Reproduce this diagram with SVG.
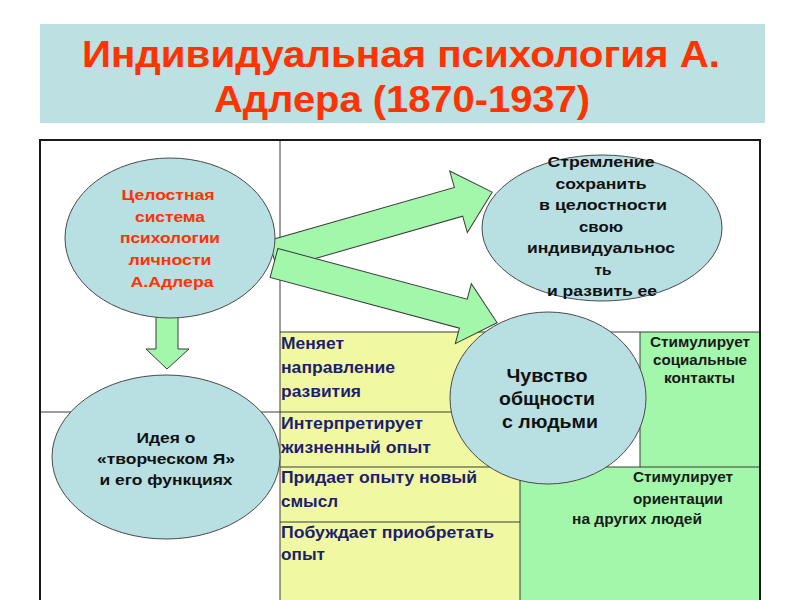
<svg xmlns="http://www.w3.org/2000/svg" width="800" height="600" viewBox="0 0 800 600">
<defs>
<style>
text{font-family:"Liberation Sans",Arial,sans-serif;font-weight:bold}
.title{font-size:36px;fill:#ff3300}
.ell{fill:#b8dfe2;stroke:#4a4a4a;stroke-width:1}
.arr{fill:#a3f7ab;stroke:#3a3a3a;stroke-width:1}
.red{font-size:15px;fill:#ff3300;text-anchor:middle}
.blk{font-size:15.5px;fill:#111;text-anchor:middle}
.big{font-size:19px;fill:#111;text-anchor:middle}
.yt{font-size:16.5px;fill:#1e1e6e}
.gt{font-size:14px;fill:#1a1a1a}
.thin{stroke:#3c3c3c;stroke-width:1;fill:none}
.thick{stroke:#1a1a1a;stroke-width:2;fill:none}
</style>
</defs>
<rect x="0" y="0" width="800" height="600" fill="#ffffff"/>
<g id="title">
<rect x="40" y="24" width="725" height="99" fill="#bde0e3"/>
<text class="title" x="82" y="67" textLength="638" lengthAdjust="spacingAndGlyphs">Индивидуальная психология А.</text>
<text class="title" x="214" y="112" textLength="376" lengthAdjust="spacingAndGlyphs">Адлера (1870-1937)</text>
</g>
<g id="table">
<rect x="280" y="332" width="280" height="135" fill="#f0f8a2"/>
<rect x="280" y="467" width="240" height="135" fill="#f0f8a2"/>
<rect x="640" y="332" width="120" height="135" fill="#a3f7ab"/>
<rect x="520" y="467" width="240" height="135" fill="#a3f7ab"/>
<path class="thin" d="M280 140V602 M280 332H760 M40 412H560 M280 467H760 M280 522H520 M520 467V602 M640 332V467 M560 332V467"/>
<path class="thick" d="M40 602V140H760V602"/>
</g>
<g id="connectors">
<polygon class="arr" transform="translate(273,255) rotate(-16)" points="0,-15 193,-15 193,-32 228,0 193,32 193,15 0,15"/>
<polygon class="arr" transform="translate(274,263) rotate(15)" points="0,-15 196,-15 196,-31 231,0 196,31 196,15 0,15"/>
<polygon class="arr" points="156,312 178,312 178,349 189,349 167,369 146,349 156,349"/>
</g>
<g id="node-system">
<ellipse class="ell" cx="170" cy="238" rx="105" ry="80"/>
<text class="red" x="168" y="200" textLength="93" lengthAdjust="spacingAndGlyphs">Целостная</text>
<text class="red" x="170" y="221.7" textLength="70" lengthAdjust="spacingAndGlyphs">система</text>
<text class="red" x="170" y="243.4" textLength="100" lengthAdjust="spacingAndGlyphs">психологии</text>
<text class="red" x="170" y="265" textLength="83" lengthAdjust="spacingAndGlyphs">личности</text>
<text class="red" x="172" y="286.8" textLength="83" lengthAdjust="spacingAndGlyphs">А.Адлера</text>
</g>
<g id="node-striving">
<ellipse class="ell" cx="602" cy="228" rx="120" ry="73"/>
<text class="blk" x="601" y="167" textLength="107" lengthAdjust="spacingAndGlyphs">Стремление</text>
<text class="blk" x="601" y="188.5" textLength="91" lengthAdjust="spacingAndGlyphs">сохранить</text>
<text class="blk" x="603" y="210" textLength="128" lengthAdjust="spacingAndGlyphs">в целостности</text>
<text class="blk" x="601" y="231.5" textLength="44" lengthAdjust="spacingAndGlyphs">свою</text>
<text class="blk" x="601" y="253" textLength="148" lengthAdjust="spacingAndGlyphs">индивидуальнос</text>
<text class="blk" x="603" y="274.5" textLength="17" lengthAdjust="spacingAndGlyphs">ть</text>
<text class="blk" x="602" y="296" textLength="110" lengthAdjust="spacingAndGlyphs">и развить ее</text>
</g>
<g id="cell-changes">
<text class="yt" x="281" y="349" textLength="63" lengthAdjust="spacingAndGlyphs">Меняет</text>
<text class="yt" x="281" y="373" textLength="114" lengthAdjust="spacingAndGlyphs">направление</text>
<text class="yt" x="281" y="397" textLength="80" lengthAdjust="spacingAndGlyphs">развития</text>
</g>
<g id="cell-interprets">
<text class="yt" x="281" y="429" textLength="142" lengthAdjust="spacingAndGlyphs">Интерпретирует</text>
<text class="yt" x="281" y="453" textLength="150" lengthAdjust="spacingAndGlyphs">жизненный опыт</text>
</g>
<g id="cell-meaning">
<text class="yt" x="281" y="483" textLength="196" lengthAdjust="spacingAndGlyphs">Придает опыту новый</text>
<text class="yt" x="281" y="507" textLength="57" lengthAdjust="spacingAndGlyphs">смысл</text>
</g>
<g id="cell-acquire">
<text class="yt" x="281" y="538" textLength="213" lengthAdjust="spacingAndGlyphs">Побуждает приобретать</text>
<text class="yt" x="281" y="560" textLength="44" lengthAdjust="spacingAndGlyphs">опыт</text>
</g>
<g id="cell-social">
<text class="gt" x="650" y="347" textLength="100" lengthAdjust="spacingAndGlyphs">Стимулирует</text>
<text class="gt" x="653" y="365" textLength="94" lengthAdjust="spacingAndGlyphs">социальные</text>
<text class="gt" x="664" y="383" textLength="71" lengthAdjust="spacingAndGlyphs">контакты</text>
</g>
<g id="cell-orientation">
<text class="gt" x="633" y="482" textLength="100" lengthAdjust="spacingAndGlyphs">Стимулирует</text>
<text class="gt" x="633" y="504" textLength="90" lengthAdjust="spacingAndGlyphs">ориентации</text>
<text class="gt" x="572" y="524" textLength="130" lengthAdjust="spacingAndGlyphs">на других людей</text>
</g>
<g id="node-community">
<ellipse class="ell" cx="548" cy="398" rx="98" ry="86"/>
<text class="big" x="547" y="382" textLength="81" lengthAdjust="spacingAndGlyphs">Чувство</text>
<text class="big" x="547" y="405" textLength="96" lengthAdjust="spacingAndGlyphs">общности</text>
<text class="big" x="550" y="428" textLength="96" lengthAdjust="spacingAndGlyphs">с людьми</text>
</g>
<g id="node-self">
<ellipse class="ell" cx="166" cy="457" rx="114" ry="82"/>
<text class="blk" x="166" y="443" textLength="59" lengthAdjust="spacingAndGlyphs">Идея о</text>
<text class="blk" x="166" y="464" textLength="138" lengthAdjust="spacingAndGlyphs">«творческом Я»</text>
<text class="blk" x="166" y="485" textLength="133" lengthAdjust="spacingAndGlyphs">и его функциях</text>
</g>
</svg>
